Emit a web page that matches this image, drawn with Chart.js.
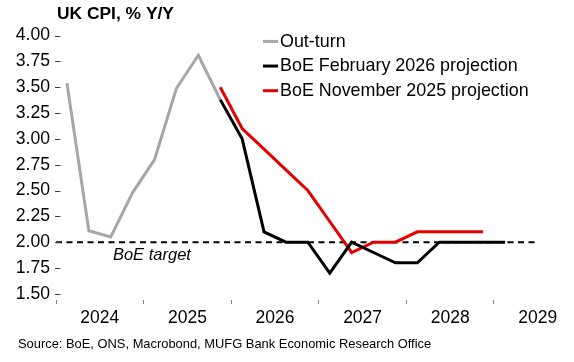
<!DOCTYPE html>
<html><head><meta charset="utf-8">
<script src="https://cdn.jsdelivr.net/npm/chart.js@4.4.1/dist/chart.umd.min.js"></script>
<style>html,body{margin:0;padding:0;background:#fff;} #wrap{width:574px;height:362px;position:relative;}</style>
</head><body><div id="wrap"><canvas id="c" width="574" height="362"></canvas></div>
<script>
const FONT = '"Liberation Sans", Arial, Helvetica, sans-serif';
const chartTitle = 'UK CPI, % Y/Y';
const sourceNote = 'Source: BoE, ONS, Macrobond, MUFG Bank Economic Research Office';
const targetLabel = 'BoE target';
const targetValue = 2.0;
const targetLabelAt = { x: 2024.65, y: 1.83 };

const outturnQuarters = ['2024 Q1','2024 Q2','2024 Q3','2024 Q4','2025 Q1','2025 Q2','2025 Q3','2025 Q4'];
const outturnValues   = [3.54, 2.11, 2.05, 2.48, 2.80, 3.49, 3.81, 3.38];

const feb2026Quarters = ['2025 Q4','2026 Q1','2026 Q2','2026 Q3','2026 Q4','2027 Q1','2027 Q2','2027 Q3','2027 Q4','2028 Q1','2028 Q2','2028 Q3','2028 Q4','2029 Q1'];
const feb2026Values   = [3.38, 3.00, 2.10, 2.00, 2.00, 1.70, 2.00, 1.90, 1.80, 1.80, 2.00, 2.00, 2.00, 2.00];

const nov2025Quarters = ['2025 Q4','2026 Q1','2026 Q2','2026 Q3','2026 Q4','2027 Q1','2027 Q2','2027 Q3','2027 Q4','2028 Q1','2028 Q2','2028 Q3','2028 Q4'];
const nov2025Values   = [3.50, 3.10, 2.90, 2.70, 2.50, 2.20, 1.90, 2.00, 2.00, 2.10, 2.10, 2.10, 2.10];

const yearTicks = [2024, 2025, 2026, 2027, 2028, 2029];
const yTickValues = [1.50, 1.75, 2.00, 2.25, 2.50, 2.75, 3.00, 3.25, 3.50, 3.75, 4.00];
const xRange = [2024, 2029.5];
const yRange = [1.44, 4.0];

function qx(label) {
  const [y, q] = label.split(' ');
  return Number(y) + (Number(q.slice(1)) - 0.5) / 4;
}
function toPoints(qs, vs) { return qs.map((q, i) => ({ x: qx(q), y: vs[i] })); }

const xTickValues = [];
yearTicks.forEach(y => { xTickValues.push(y); xTickValues.push(y + 0.5); });

const overlayPlugin = {
  id: 'overlay',
  afterDraw(chart) {
    const ctx = chart.ctx;
    const ys = chart.scales.y, xs = chart.scales.x;
    const area = chart.chartArea;
    ctx.save();
    ctx.strokeStyle = '#404040';
    ctx.lineWidth = 1;
    ys.ticks.forEach(t => {
      const py = Math.round(ys.getPixelForValue(t.value)) + 0.5;
      ctx.beginPath();
      ctx.moveTo(area.left - 1, py);
      ctx.lineTo(area.left + 4.5, py);
      ctx.stroke();
    });
    ctx.fillStyle = '#000';
    ctx.textBaseline = 'alphabetic';
    ctx.textAlign = 'left';
    ctx.font = 'bold 17.4px ' + FONT;
    ctx.fillText(chartTitle, 57, 18.5);
    ctx.font = 'italic 16.5px ' + FONT;
    ctx.fillText(targetLabel, xs.getPixelForValue(targetLabelAt.x), ys.getPixelForValue(targetLabelAt.y));
    ctx.font = '12.9px ' + FONT;
    ctx.fillText(sourceNote, 18, 347.5);
    ctx.font = '17.9px ' + FONT;
    let row = 0;
    chart.data.datasets.forEach(ds => {
      if (!ds.inLegend) return;
      const base = 46.7 + row * 24.65;
      const my = base - 5.3;
      ctx.strokeStyle = ds.borderColor;
      ctx.lineWidth = 3;
      ctx.beginPath();
      ctx.moveTo(263, my);
      ctx.lineTo(278, my);
      ctx.stroke();
      ctx.fillStyle = '#000';
      ctx.fillText(ds.label, 280, base);
      row++;
    });
    ctx.restore();
  }
};

new Chart(document.getElementById('c'), {
  type: 'line',
  data: {
    datasets: [
      { label: 'Out-turn', inLegend: true, data: toPoints(outturnQuarters, outturnValues),
        borderColor: '#A6A6A6', borderWidth: 3, pointRadius: 0, order: 3 },
      { label: 'BoE February 2026 projection', inLegend: true, data: toPoints(feb2026Quarters, feb2026Values),
        borderColor: '#000000', borderWidth: 3, pointRadius: 0, order: 1 },
      { label: 'BoE November 2025 projection', inLegend: true, data: toPoints(nov2025Quarters, nov2025Values),
        borderColor: '#E60000', borderWidth: 3, pointRadius: 0, order: 2 },
      { label: 'BoE target', inLegend: false, data: [{ x: xRange[0], y: targetValue }, { x: xRange[1], y: targetValue }],
        borderColor: '#000000', borderWidth: 2, borderDash: [6, 4.5], pointRadius: 0, order: 4 }
    ]
  },
  options: {
    responsive: false,
    devicePixelRatio: 1,
    animation: false,
    events: [],
    layout: { padding: { left: 0, top: 35.6, right: 36.2, bottom: 0 } },
    elements: { line: { tension: 0, fill: false } },
    plugins: { legend: { display: false }, tooltip: { enabled: false }, title: { display: false } },
    scales: {
      x: {
        type: 'linear', min: xRange[0], max: xRange[1],
        afterBuildTicks: s => { s.ticks = xTickValues.map(v => ({ value: v })); },
        afterFit: s => { s.height = 62; },
        border: { display: false },
        grid: { drawOnChartArea: false, drawTicks: true, tickLength: 4, tickWidth: 1,
          tickColor: c => (c.tick && Number.isInteger(c.tick.value)) ? '#808080' : 'rgba(0,0,0,0)' },
        ticks: { autoSkip: false, maxRotation: 0, padding: 4, color: '#000',
          font: { family: FONT, size: 17.5 },
          callback: v => (Math.abs(v % 1 - 0.5) < 1e-6) ? String(Math.floor(v)) : '' }
      },
      y: {
        type: 'linear', min: yRange[0], max: yRange[1],
        afterBuildTicks: s => { s.ticks = yTickValues.map(v => ({ value: v })); },
        afterFit: s => { s.width = 56; },
        border: { display: false },
        grid: { drawOnChartArea: false, drawTicks: false },
        ticks: { padding: 6, color: '#000', font: { family: FONT, size: 17.6 },
          callback: v => Number(v).toFixed(2) }
      }
    }
  },
  plugins: [overlayPlugin]
});
</script></body></html>
